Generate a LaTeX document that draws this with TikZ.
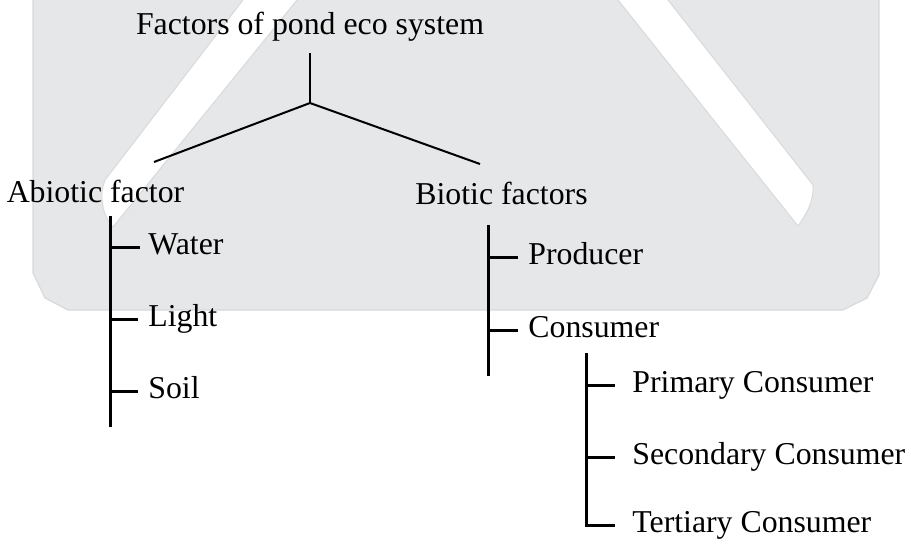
\documentclass[tikz,border=0pt]{standalone}
\usepackage{fontspec}
\setmainfont{Liberation Serif}
\usetikzlibrary{positioning}
\definecolor{pondgray}{RGB}{230,231,232}
\definecolor{pondedge}{RGB}{216,217,218}

\begin{document}
\begin{tikzpicture}[
        x=0.5pt, y=-0.5pt,
        every node/.style={inner sep=2pt, font=\fontsize{15.9}{18}\selectfont, text height=11.1pt, text depth=3.2pt},
        item/.style={anchor=west},
        treeline/.style={line width=1pt},
        listline/.style={line width=1.5pt}
    ]
    \useasboundingbox (0,0) rectangle (911,546);

    % Background
    \fill[pondgray, draw=pondedge, line width=0.6pt] (33,0) -- (33,273) -- (45,298) -- (68,310) -- (843,310) -- (867,298) -- (879,275) -- (879,0);
    \filldraw[fill=white, draw=pondedge, line width=0.5pt] (243,0) -- (105,180) .. controls (100,192) and (100,212) .. (113,227) -- (297,0);
    \filldraw[fill=white, draw=pondedge, line width=0.5pt] (618,0) -- (798,226) .. controls (808,212) and (814,200) .. (813,185) -- (668,0);

    % Nodes
      \node (root) at (310,27) {Factors of pond eco system};
      \node (abio) at (95.5,195) {Abiotic factor};
      \node (bio) at (501.5,197) {Biotic factors};

      \node (water)[item] at (144,247) {Water};
      \node (light)[below=36pt of water.west, item] {Light};
      \node (soil)[below=36pt of light.west, item] {Soil};

      \node (prod)[item] at (524,257) {Producer};
      \node (cons)[below=36.5pt of prod.west, item] {Consumer};

      \node (prim)[item] at (628,385) {Primary Consumer};
      \node (sec)[below=36pt of prim.west, item] {Secondary Consumer};
      \node (tert)[below=34pt of sec.west, item] {Tertiary Consumer};

      \coordinate (stem) at (310,53);
      \coordinate (fork) at (310,103);
      \coordinate (lend) at (154,162);
      \coordinate (rend) at (480,164);

      \coordinate (abtop) at (110,216);
      \coordinate (abbot) at (110,427);
      \coordinate (btop) at (488,225);
      \coordinate (bbot) at (488,376);
      \coordinate (ctop) at (586,353);

    \draw[treeline] (stem) -- (fork);
    \draw[treeline] (fork) -- (lend);
    \draw[treeline] (fork) -- (rend);

    \draw[listline] (abtop) -- (abbot);
    \draw[listline] (abtop |- water.west) -- ([xshift=-2pt]water.west);
    \draw[listline] (abtop |- light.west) -- ([xshift=-3pt]light.west);
    \draw[listline] (abtop |- soil.west) -- ([xshift=-3pt]soil.west);

    \draw[listline] (btop) -- (bbot);
    \draw[listline] (btop |- prod.west) -- ([xshift=-3pt]prod.west);
    \draw[listline] (btop |- cons.west) -- ([xshift=-3pt]cons.west);

    \draw[listline] (ctop) -- (ctop |- tert.west) -- ([xshift=-6.5pt]tert.west);
    \draw[listline] (ctop |- prim.west) -- ([xshift=-6.5pt]prim.west);
    \draw[listline] (ctop |- sec.west) -- ([xshift=-6.5pt]sec.west);

    \end{tikzpicture}
\end{document}
